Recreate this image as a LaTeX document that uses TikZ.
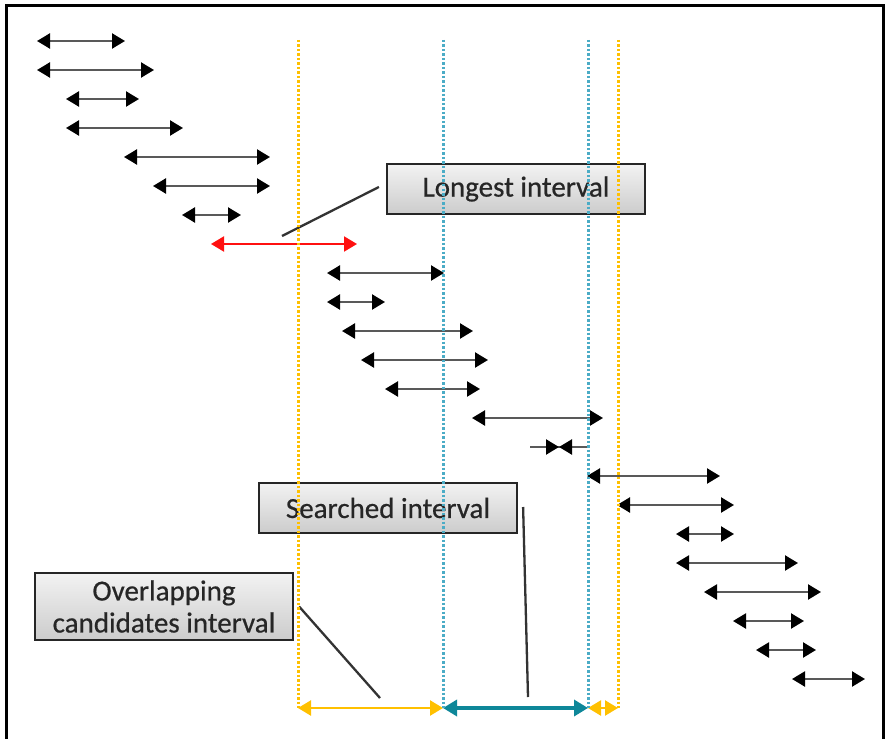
\documentclass[tikz,border=0pt]{standalone}
\usepackage{fontspec}
\setmainfont{Carlito}
\newfontfamily\lblfont[FakeBold=0.6]{Carlito}
\usetikzlibrary{arrows.meta}
\definecolor{ygold}{HTML}{FFC000}
\definecolor{tealc}{HTML}{4BACC6}
\definecolor{darkteal}{HTML}{0E8799}
\definecolor{redc}{HTML}{FF1010}
\begin{document}
\begin{tikzpicture}[x=1pt,y=-1pt,
  iv/.style={line width=2.3pt, draw=black!65, {Triangle[length=13pt,width=15pt,color=black]}-{Triangle[length=13pt,width=15pt,color=black]}},
  redv/.style={line width=2pt, draw=redc, {Triangle[length=13pt,width=15pt]}-{Triangle[length=13pt,width=15pt]}},
  ydot/.style={draw=ygold, line width=3pt, dash pattern=on 2.5pt off 2pt},
  tdot/.style={draw=tealc, line width=3pt, dash pattern=on 2.5pt off 2pt},
  yarr/.style={draw=ygold, line width=2.3pt, {Triangle[length=13pt,width=15pt]}-{Triangle[length=13pt,width=15pt]}},
  tarr/.style={draw=darkteal, line width=3.4pt, {Triangle[length=14pt,width=16pt]}-{Triangle[length=14pt,width=16pt]}},
  lbl/.style={draw=black!85, line width=2.2pt, top color=gray!10, bottom color=gray!40, inner sep=0pt,
     font=\lblfont\fontsize{29}{35}\selectfont, text=black!85, align=center},
  leader/.style={draw=black!80, line width=2.3pt}]
\useasboundingbox (0,0) rectangle (885,738);
\fill[white] (0,0) rectangle (885,738);
\draw[line width=3pt] (6,740) -- (6,6) -- (883,6) -- (883,740);

% intervals
\foreach \y/\a/\b [count=\i] in {41/37/125, 70/37/154, 99/66/139, 128/66/183, 157/124/270, 186/153/270, 215/182/241,
  273/327/444, 302/327/385, 331/342/473, 360/361/488, 389/385/480, 418/472/603,
  476/587/720, 505/617/734, 534/676/734, 563/676/798, 592/704/821, 621/733/804, 650/756/816, 679/792/865}{
  \coordinate (s\i) at (\a,\y);
  \coordinate (e\i) at (\b,\y);
  \draw[iv] (s\i) -- (e\i);
}
\coordinate (rs) at (211,244);
\coordinate (re) at (357,244);
\draw[redv] (rs) -- (re);

% degenerate interval
\coordinate (ds) at (530,447);
\coordinate (dm) at (559,447);
\coordinate (de) at (588,447);
\draw[line width=2.3pt, draw=black!65] (ds) -- (de);
\draw[line width=2.3pt, draw=black!65, -{Triangle[length=13pt,width=15pt,color=black]}] (ds) -- (dm);
\draw[line width=2.3pt, draw=black!65, -{Triangle[length=13pt,width=15pt,color=black]}] (de) -- (dm);

% labels
\node[lbl, minimum width=258pt, minimum height=50pt] (longest) at (516,189) {Longest interval};
\node[lbl, minimum width=258pt, minimum height=50pt] (searched) at (388,508) {Searched interval};
\node[lbl, minimum width=258pt, minimum height=67pt] (overlap) at (164,606.5) {Overlapping\\[-3pt]candidates interval};

\coordinate (lt) at (282,236);
\coordinate (st) at (528,697);
\coordinate (ot) at (380,698);
\draw[leader] ([xshift=-7pt,yshift=2pt]longest.west) -- (lt);
\draw[leader] ([xshift=5pt,yshift=1pt]searched.east) -- (st);
\draw[leader] ([xshift=5pt]overlap.east) -- (ot);

% bottom span arrows
\coordinate (y1) at (298,708);
\coordinate (t1) at (443,708);
\coordinate (t2) at (588,708);
\coordinate (y2) at (618,708);
\draw[yarr] (y1) -- (t1);
\draw[tarr] (t1) -- (t2);
\draw[yarr] (t2) -- (y2);

% dotted verticals
\coordinate (yt1) at (298,40);
\coordinate (tt1) at (443,40);
\coordinate (tt2) at (588,40);
\coordinate (yt2) at (618,40);
\draw[ydot] (yt1) -- (y1);
\draw[tdot] (tt1) -- (t1);
\draw[tdot] (tt2) -- (t2);
\draw[ydot] (yt2) -- (y2);
\end{tikzpicture}
\end{document}
